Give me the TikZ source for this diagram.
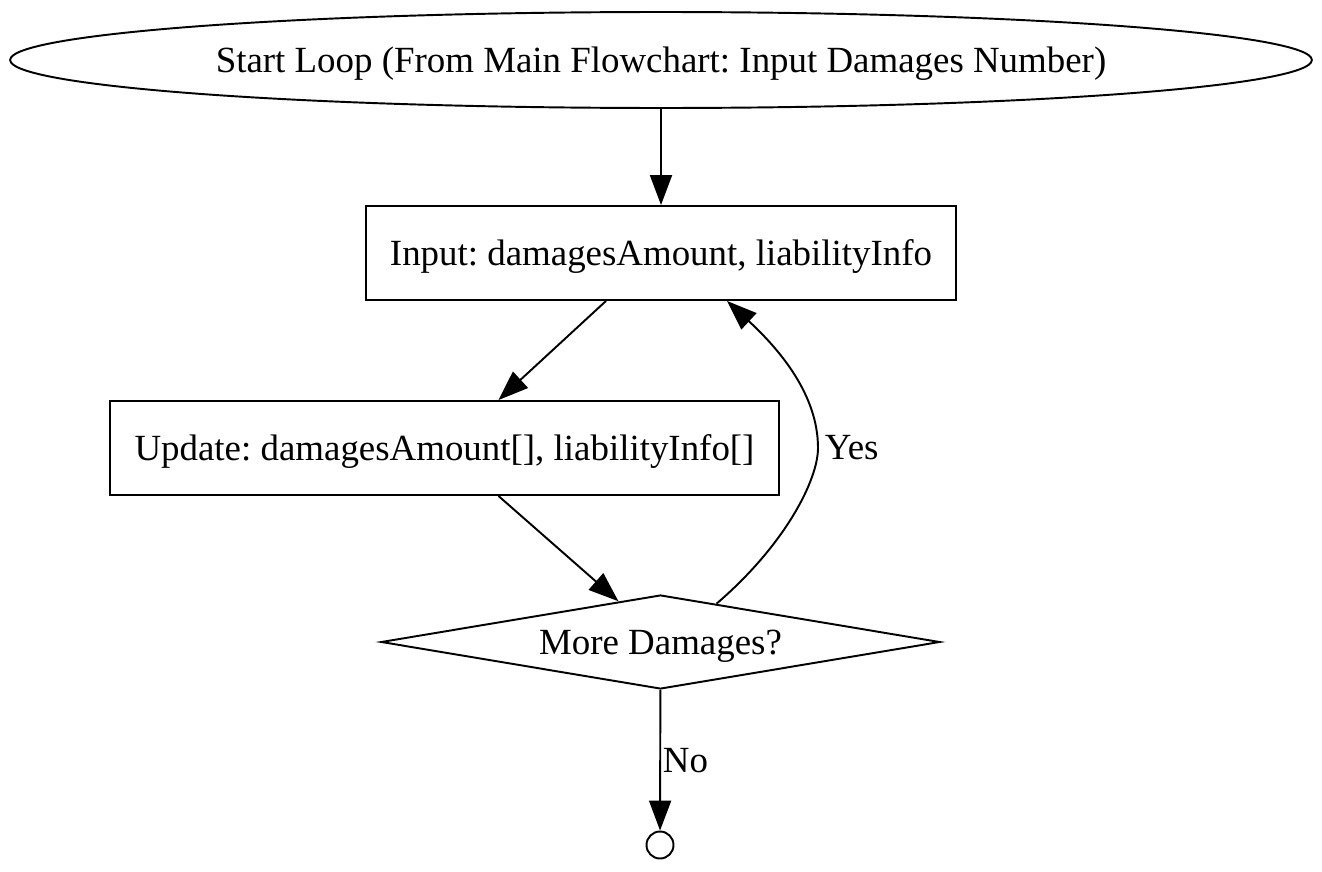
\documentclass[tikz,border=0pt]{standalone}
\usepackage{fontspec}
\setmainfont{Liberation Serif}
\frenchspacing
\usetikzlibrary{arrows.meta,calc,positioning,shapes.geometric}
\tikzset{
  startnode/.style={
    ellipse, draw, line width=1.1pt, inner sep=0pt,
    text height=18pt, text depth=4pt,
    minimum width=26.04cm, minimum height=1.92cm
  },
  procbox/.style={
    rectangle, draw, line width=1.1pt, inner sep=0pt,
    text height=18pt, text depth=4pt, minimum height=1.88cm
  },
  decision/.style={
    diamond, draw, line width=1.1pt, inner sep=0pt, aspect=5.95,
    text height=18pt, text depth=4pt,
    minimum width=11.18cm, minimum height=1.88cm
  },
  endpoint/.style={
    circle, draw, line width=1.1pt, inner sep=0pt, minimum size=0.54cm
  },
  flow/.style={-{Triangle[length=0.6cm,width=0.44cm]}, line width=1.1pt},
  edgelabel/.style={font=\fontsize{21}{24}\selectfont}
}

\begin{document}
\begin{tikzpicture}[x=0.02cm,y=-0.02cm,font=\fontsize{21}{24}\selectfont]
    \useasboundingbox (0,0) rectangle (1322,872);
    \node[startnode] (start) at (661,60) {Start Loop (From Main Flowchart: Input Damages Number)};
    \node[procbox,minimum width=11.8cm] (input) at (661,253) {Input: damagesAmount, liabilityInfo};
    \node[procbox,minimum width=13.38cm] (update) at (444.5,448) {Update: damagesAmount[], liabilityInfo[]};
    \node[decision] (more) at (660.5,642) {More Damages?};
    \node[endpoint] (stop) at (660,845) {};
    \draw[flow] (start)--(input);
    \draw[flow] ([xshift=-1.1cm]input.south)--([xshift=1.08cm]update.north);
    \draw[flow] ([xshift=1.08cm]update.south)--($(more.north)!0.15!(more.west)$);
    \draw[flow] ($(more.north)!0.2!(more.east)$)
      .. controls (785,545) and (818,480) .. (818,448)
      node[edgelabel,right] {Yes}
      .. controls (818,395) and (780,350) .. ([xshift=1.32cm]input.south);
    \draw[flow] (more)--node[edgelabel,right,inner sep=1pt,pos=0.5]{No}(stop);
  \end{tikzpicture}
\end{document}
